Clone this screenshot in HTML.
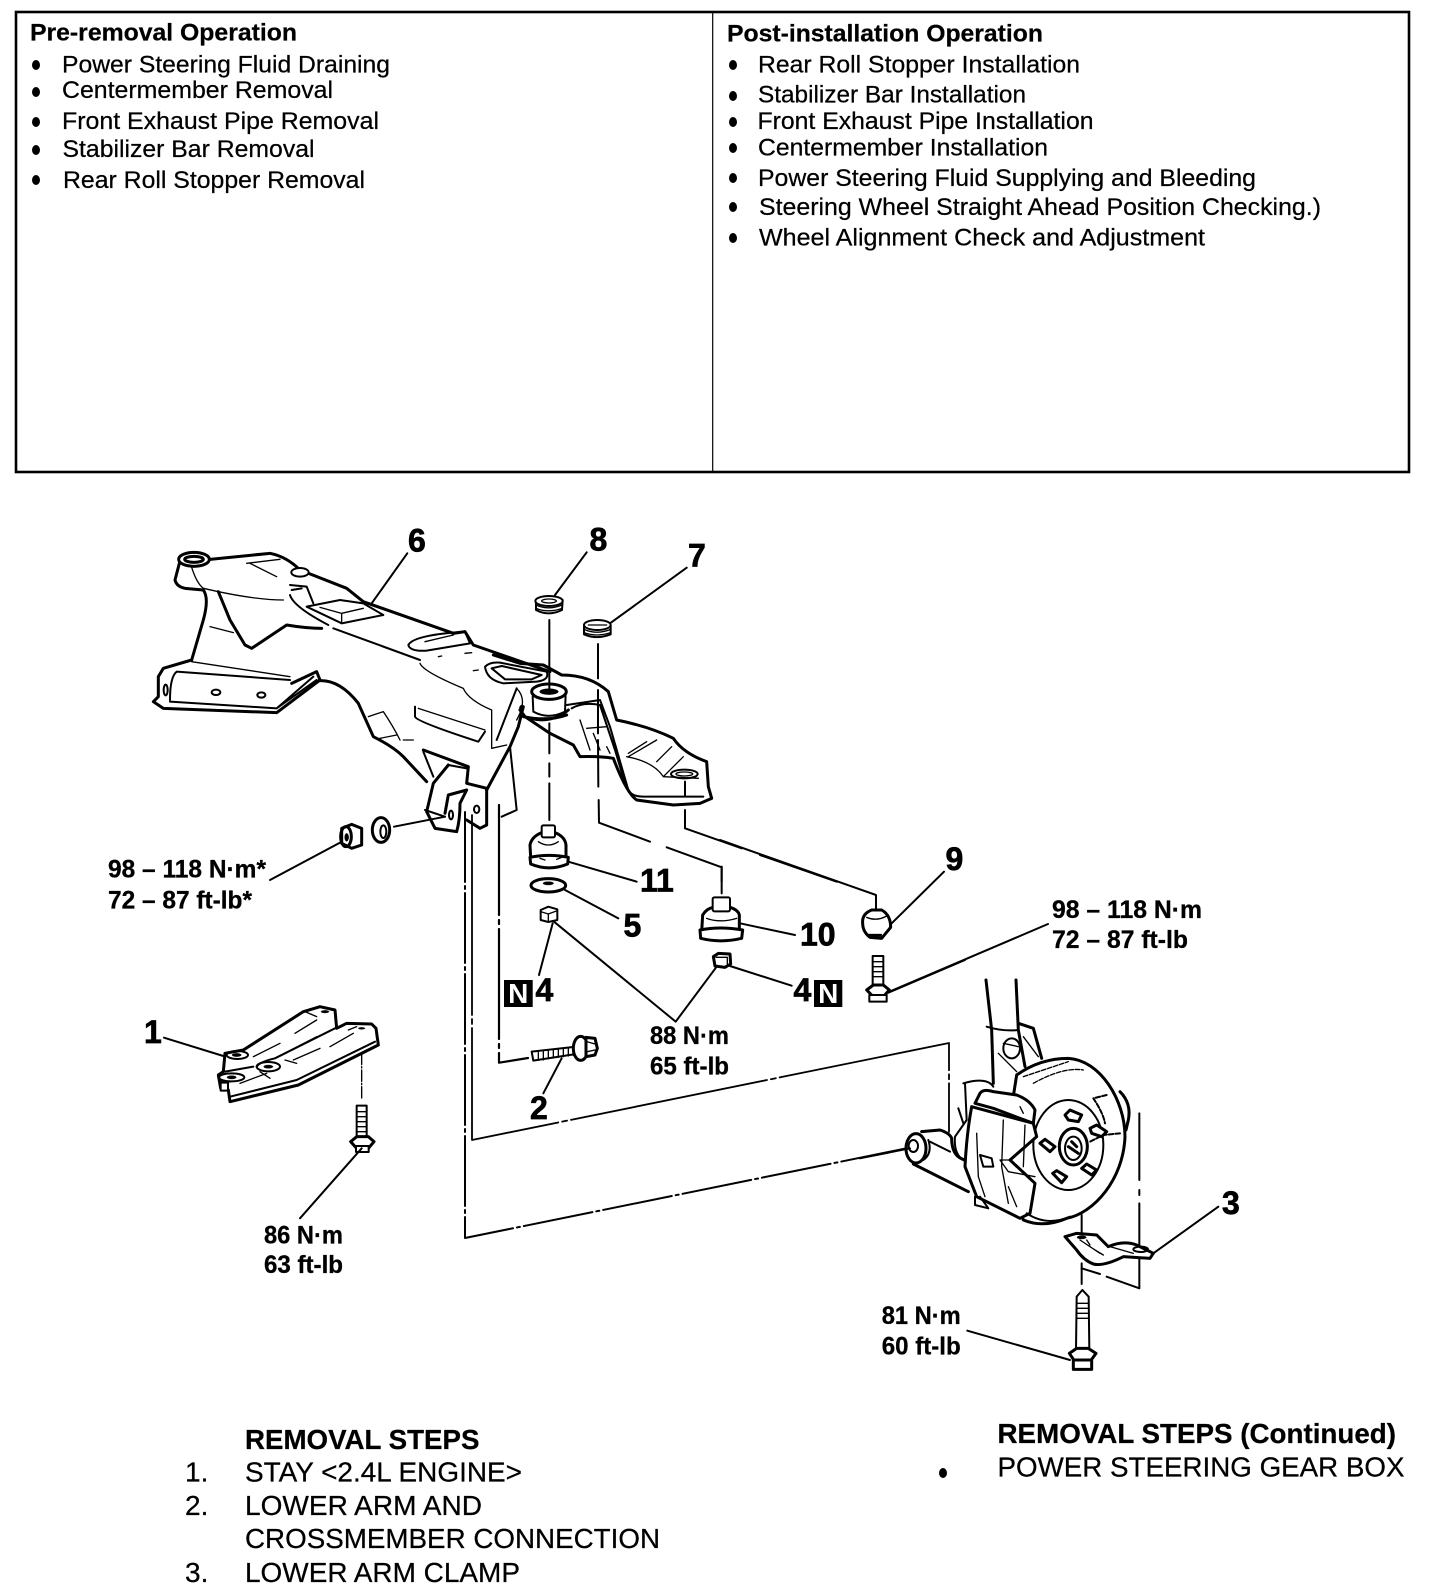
<!DOCTYPE html>
<html><head><meta charset="utf-8"><style>
html,body{margin:0;padding:0;background:#fff}
svg{display:block}
text{font-family:"Liberation Sans",sans-serif;fill:#000}
.b{font-weight:bold}
.t{font-size:24.5px;stroke:#000;stroke-width:.25}
.d{font-size:25px;font-weight:bold;stroke:#000;stroke-width:.3}
.n{font-size:32px;font-weight:bold;stroke:#000;stroke-width:.7}
.s{font-size:28px;stroke:#000;stroke-width:.25}
.p path,.p line,.p ellipse,.p polyline,.p rect,.p circle{stroke:#000;stroke-linejoin:round;stroke-linecap:round}
.p path,.p polyline{fill:none}
.p .w{fill:#fff}
.p .k{fill:#000}
.h{stroke-width:9}.m{stroke-width:6}.l{stroke-width:4}
</style></head><body>
<svg width="1456" height="1594" viewBox="0 0 1456 1594" xmlns="http://www.w3.org/2000/svg">
<rect width="1456" height="1594" fill="#fff"/>
<rect x="16" y="12" width="1393" height="460" fill="none" stroke="#000" stroke-width="2.6"/>
<line x1="712.7" y1="12" x2="712.7" y2="472" stroke="#000" stroke-width="1.2"/>

<text class="t b" x="30" y="40.7" textLength="267" lengthAdjust="spacingAndGlyphs">Pre-removal Operation</text>
<text class="t" x="62" y="72.5" textLength="328" lengthAdjust="spacingAndGlyphs">Power Steering Fluid Draining</text>
<text class="t" x="62" y="98" textLength="271" lengthAdjust="spacingAndGlyphs">Centermember Removal</text>
<text class="t" x="62" y="129" textLength="317" lengthAdjust="spacingAndGlyphs">Front Exhaust Pipe Removal</text>
<text class="t" x="62.5" y="157" textLength="252" lengthAdjust="spacingAndGlyphs">Stabilizer Bar Removal</text>
<text class="t" x="63" y="188" textLength="302" lengthAdjust="spacingAndGlyphs">Rear Roll Stopper Removal</text>
<g fill="#000">
<ellipse cx="36" cy="65" rx="4" ry="5"/><ellipse cx="36" cy="92" rx="4" ry="5"/><ellipse cx="36" cy="122" rx="4" ry="5"/><ellipse cx="36" cy="150" rx="4" ry="5"/><ellipse cx="36" cy="180" rx="4" ry="5"/>
<ellipse cx="733" cy="65" rx="4" ry="5"/><ellipse cx="733" cy="96" rx="4" ry="5"/><ellipse cx="733" cy="122" rx="4" ry="5"/><ellipse cx="733" cy="148" rx="4" ry="5"/><ellipse cx="733" cy="178" rx="4" ry="5"/><ellipse cx="733" cy="207" rx="4" ry="5"/><ellipse cx="733" cy="238" rx="4" ry="5"/>
<ellipse cx="943" cy="1473" rx="4" ry="5"/>
</g>
<text class="t b" x="727" y="41.3" textLength="316" lengthAdjust="spacingAndGlyphs">Post-installation Operation</text>
<text class="t" x="758" y="72.7" textLength="322" lengthAdjust="spacingAndGlyphs">Rear Roll Stopper Installation</text>
<text class="t" x="758" y="102.7" textLength="268" lengthAdjust="spacingAndGlyphs">Stabilizer Bar Installation</text>
<text class="t" x="757.5" y="129" textLength="336" lengthAdjust="spacingAndGlyphs">Front Exhaust Pipe Installation</text>
<text class="t" x="758" y="155.3" textLength="290" lengthAdjust="spacingAndGlyphs">Centermember Installation</text>
<text class="t" x="758" y="186" textLength="498" lengthAdjust="spacingAndGlyphs">Power Steering Fluid Supplying and Bleeding</text>
<text class="t" x="759" y="215" textLength="562" lengthAdjust="spacingAndGlyphs">Steering Wheel Straight Ahead Position Checking.)</text>
<text class="t" x="759" y="245.7" textLength="446" lengthAdjust="spacingAndGlyphs">Wheel Alignment Check and Adjustment</text>

<!-- global connector lines -->
<g class="p" fill="none">
<polyline stroke-width="2" stroke-dasharray="70,4,3,4" points="465,812 465,1238 908,1148"/>
<polyline stroke-width="1.8" stroke-dasharray="200,4,5,4" points="472,815 472,1140 949,1043 949,1132"/>
<polyline stroke-width="2.2" stroke-dasharray="110,5,4,5" points="499,805 499,1062.7 528,1058"/>
<line x1="887" y1="992.7" x2="1048" y2="924" stroke-width="2"/>
</g>

<!-- crossmember, left portion -->
<g class="p" transform="translate(120,520) scale(.33333)">
<path class="h" d="M178,130 L165,180 Q170,200 195,205 L250,210 Q268,235 250,300 L215,420"/>
<ellipse class="w h" cx="222" cy="118" rx="46" ry="21"/>
<ellipse class="h" cx="222" cy="118" rx="28" ry="9" fill="none"/>
<path class="h" d="M270,118 L450,100 Q500,110 540,150 L680,205 L730,245 L1000,340 L1035,335 L1060,375 L1290,455"/>
<ellipse class="w m" cx="540" cy="157" rx="26" ry="13"/>
<path class="m" d="M510,195 L560,200 L580,250 M515,210 L545,205"/>
<path class="l" d="M215,142 Q230,190 250,205 Q400,240 490,240 M380,130 L480,118 M390,130 L470,170"/>
<path class="h" d="M295,215 L330,300 L375,375 L395,385 L500,315 Q560,325 605,325"/>
<path class="l" d="M270,320 L340,338"/>
<path class="m" d="M510,225 Q520,260 625,315"/>
<path class="m" d="M560,260 L660,240 L730,250 L790,285 L665,310 Z"/>
<path class="l" d="M665,280 L730,265 M665,280 L665,308 M600,262 L665,280"/>
<path class="m" d="M640,325 L900,420"/>
<path class="l" d="M900,430 Q910,455 1030,505 Q1045,540 1115,570 L1115,685 L1160,675"/>
<path class="m" d="M865,375 Q880,345 1035,335 L1050,370 L920,392 Q870,395 865,375 Z"/>
<path class="l" d="M915,365 L1000,345 M955,410 L965,408 M1035,400 L1055,398 M1060,452 L1075,450"/>
<path class="m" d="M1095,440 Q1110,425 1140,428 L1280,455 Q1290,480 1250,485 L1150,490 Q1100,480 1095,440 Z"/>
<path class="m" d="M1115,445 L1145,438 L1265,465 L1235,478 L1155,478 Z"/>
<path class="m" d="M885,560 L885,590 Q890,605 1075,665 L1095,635"/>
<path class="l" d="M895,565 L1095,630"/>
<path class="h" d="M215,420 L130,445 L115,470 L115,530 L100,545 L130,565 L470,578 L600,480 L590,455 L515,490"/>
<path class="l" d="M215,425 L510,470"/>
<path class="m" d="M150,540 Q150,470 170,455 L510,480 M150,545 L470,565 L590,480 M470,565 L580,470"/>
<ellipse class="m" cx="288" cy="517" rx="13" ry="8" fill="none"/>
<ellipse class="m" cx="424" cy="525" rx="12" ry="8" fill="none"/>
<ellipse class="m" cx="137" cy="510" rx="6" ry="16" fill="none"/>
<path class="h" d="M600,482 Q660,480 715,550 L760,650 Q820,680 850,710 L920,785"/>
<path class="l" d="M745,590 L790,575 Q820,620 840,660 M780,655 L830,645 M850,660 L880,660"/>
<path class="h" d="M910,690 L1045,740 L1040,790 L1100,805 L1100,915 L1080,925 L1040,900"/>
<path class="m" d="M910,695 L940,770 M985,735 L1040,745"/>
<path class="h" d="M985,735 L940,790 L920,875 L945,925 L1010,935 Q1020,900 1020,850 L1040,810 L985,825 L975,880"/>
<path class="m" d="M915,870 L975,890"/>
<ellipse class="m" cx="993" cy="885" rx="6" ry="13" fill="none"/>
<ellipse class="m" cx="1070" cy="868" rx="8" ry="11" fill="none"/>
<path class="h" d="M1100,810 L1170,680 L1195,620 L1210,560"/>
<path class="m" d="M1170,680 L1190,870 L1145,890 M1190,505 L1130,660"/>
<path class="l" d="M1190,505 Q1225,540 1190,600"/>
<ellipse class="k" cx="1205" cy="565" rx="7" ry="10"/>
</g>

<!-- crossmember right portion -->
<g class="p" transform="translate(500,520) scale(.33333)">
<path class="h" d="M-20,405 L60,430 L130,435 L185,465 Q270,465 325,515 L350,600 Q450,620 520,655 Q550,700 620,725 L625,800 L635,835 L600,850 L520,855 L410,840 Q380,820 340,715 Q300,708 240,710 L220,675 L150,640 L75,590 L60,570"/>
<path class="m" d="M200,555 L300,540 L330,620 L385,810 Q395,830 430,830 L610,830 M215,565 Q250,545 300,555 L345,690 L375,790"/>
<path class="l" d="M240,600 L270,690 M260,625 L320,620 M280,640 L300,690 M320,680 L330,700 M385,710 L470,660 M385,700 L440,665 M470,725 L515,680 M380,710 Q460,725 490,770 L595,775 M490,770 L550,710"/>
<ellipse class="m" cx="553" cy="762" rx="40" ry="13" fill="none"/>
<ellipse class="l" cx="553" cy="762" rx="25" ry="6" fill="none"/>
<path class="w m" d="M98,530 L100,575 Q145,600 195,575 L197,520 Z"/>
<path class="h" d="M60,585 Q145,620 205,570 M70,590 Q145,605 200,585"/>
<ellipse class="w h" cx="147" cy="515" rx="52" ry="23"/>
<ellipse class="k" cx="147" cy="515" rx="28" ry="9"/>
<line class="m" x1="148" y1="300" x2="148" y2="510"/>
<line class="m" x1="148" y1="610" x2="148" y2="700"/>
<line class="m" x1="148" y1="730" x2="148" y2="770"/>
<line class="m" x1="148" y1="790" x2="148" y2="900"/>
<polyline class="m" points="294,372 294,475"/>
<polyline class="m" points="294,510 294,640"/>
<polyline class="m" points="294,660 295,800"/>
<polyline class="m" points="296,840 297,908 450,965"/>
<polyline class="m" points="500,982 665,1042 665,1085"/>
<polyline class="m" points="555,785 555,830"/>
<polyline class="m" points="555,870 555,925 725,985"/>
<polyline class="m" points="780,1005 1010,1085"/>
<!-- 8 -->
<path class="w m" d="M108,240 L108,270 Q145,290 186,270 L188,240 Z"/>
<ellipse class="w m" cx="147" cy="243" rx="41" ry="15"/>
<ellipse class="l" cx="147" cy="243" rx="22" ry="6" fill="none"/>
<path class="l" d="M108,255 Q145,272 186,255 M108,265 Q145,280 186,265"/>
<!-- 7 -->
<path class="w m" d="M252,315 L252,343 Q290,360 332,343 L332,315 Z"/>
<ellipse class="w m" cx="292" cy="315" rx="40" ry="15"/>
<path class="l" d="M265,315 L320,315 M252,328 Q290,345 332,328 M252,338 Q290,352 332,338"/>
<!-- 11 -->
<path class="w h" d="M92,1012 L90,975 Q95,950 125,938 L165,938 Q195,950 198,975 L198,1012 Z"/>
<rect class="w m" x="125" y="916" width="40" height="36" rx="5"/>
<path class="w h" d="M90,1012 Q147,1000 205,1012 L203,1032 Q147,1055 92,1032 Z"/>
<path class="l" d="M115,965 Q145,985 175,965 M120,1015 L135,1020 M170,1018 L185,1012"/>
</g>

<!-- lower-left group -->
<g class="p" transform="translate(100,840) scale(.33333)">
<path class="h" d="M375,640 L370,695 L355,705 L362,745 L385,750 L390,785 L595,735 L835,615 L828,565 L815,552 L740,550 L710,565 L705,510 L660,500 L610,515 L430,630 L375,640"/>
<path class="m" d="M375,695 L460,680 M470,680 Q480,665 525,655 L705,565 M362,725 L390,725 M390,770 L590,720 L825,605"/>
<path class="l" d="M460,650 L540,610 M585,580 L650,540 M525,655 L650,590 M580,660 L660,625 M690,620 L760,580 M615,515 L650,530 M745,570 L770,560 M420,730 L500,700 M480,695 L510,715 M555,660 L590,670"/>
<ellipse class="m" cx="412" cy="645" rx="32" ry="12" fill="none"/>
<ellipse class="k" cx="410" cy="645" rx="14" ry="5"/>
<ellipse class="m" cx="505" cy="680" rx="35" ry="14" fill="none"/>
<ellipse class="k" cx="505" cy="680" rx="14" ry="5"/>
<ellipse class="m" cx="395" cy="712" rx="38" ry="12" fill="none"/>
<ellipse class="k" cx="395" cy="712" rx="14" ry="5"/>
<ellipse class="k" cx="675" cy="515" rx="12" ry="4"/>
<ellipse class="k" cx="785" cy="565" rx="10" ry="3"/>
<rect class="w m" x="362" y="728" width="22" height="24"/>
<polyline class="l" points="785,640 785,780" stroke-dasharray="34,6,4,6"/>
<!-- bolt -->
<rect class="w m" x="770" y="797" width="30" height="100"/>
<path class="l" d="M772,815 H798 M772,830 H798 M772,845 H798 M772,860 H798 M772,875 H798"/>
<path class="w h" d="M752,905 L770,890 L805,890 L822,905 L805,925 L770,925 Z"/>
<rect class="w m" x="768" y="918" width="38" height="18"/>
</g>

<!-- center parts -->
<g class="p" transform="translate(480,840) scale(.33333)">
<!-- cup 10 -->
<path class="w h" d="M665,275 L668,225 Q680,205 700,202 L750,202 Q775,210 778,225 L778,275 Z"/>
<rect class="w m" x="698" y="172" width="52" height="42" rx="5"/>
<path class="w h" d="M660,270 Q720,258 788,270 L785,295 Q722,310 662,295 Z"/>
<path class="l" d="M680,235 Q720,250 770,235"/>
<!-- washer 5 -->
<ellipse class="w h" cx="205" cy="136" rx="52" ry="20"/>
<ellipse class="k" cx="205" cy="130" rx="16" ry="5"/>
<!-- nut left -->
<path class="w m" d="M182,210 L205,200 L232,208 L232,240 L205,246 L182,240 Z"/>
<path class="l" d="M182,215 L205,222 L232,212 M205,222 L205,246"/>
<!-- nut right -->
<path class="w h" d="M700,350 L715,340 L750,342 L752,372 L735,382 L705,378 Z"/>
<path class="l" d="M708,352 L742,352 L742,372"/>
<!-- 9 -->
<path class="w h" d="M1148,250 Q1145,222 1175,210 L1205,210 Q1232,225 1232,262 L1205,295 L1170,292 Q1148,275 1148,250 Z"/>
<path class="l" d="M1160,232 Q1190,245 1220,228"/>
<rect class="k" x="1165" y="282" width="40" height="8"/>
<!-- bolt right -->
<rect class="w m" x="1178" y="348" width="32" height="90"/>
<path class="l" d="M1180,365 H1208 M1180,380 H1208 M1180,395 H1208 M1180,410 H1208"/>
<path class="w h" d="M1160,450 L1180,435 L1210,435 L1228,450 L1210,470 L1180,470 Z"/>
<rect class="w m" x="1168" y="465" width="52" height="20"/>
<!-- bolt 2 -->
<path class="w m" d="M155,635 L290,620 L300,640 L160,662 Z"/>
<path class="l" d="M175,635 V660 M190,635 V660 M205,632 V656 M220,630 V654 M235,628 V652 M250,626 V650 M265,624 V648 M280,622 V646"/>
<ellipse class="w h" cx="302" cy="625" rx="22" ry="36"/>
<path class="w h" d="M318,592 L345,595 L352,625 L345,645 L318,650 Z"/>
<path class="l" d="M320,605 L345,612 M322,635 L345,630"/>
<!-- leaders -->
<g class="m">
<line x1="265" y1="65" x2="470" y2="125"/><line x1="255" y1="150" x2="415" y2="235"/><line x1="780" y1="250" x2="945" y2="285"/>
<line x1="1392" y1="95" x2="1235" y2="250"/><line x1="218" y1="250" x2="177" y2="405"/>
<polyline points="222,245 587,545 710,380"/><line x1="750" y1="378" x2="935" y2="437"/><line x1="245" y1="655" x2="190" y2="760"/>
<polyline points="725,80 725,160"/>
<polyline points="720,0 1188,165 1188,205"/>
</g>
</g>

<!-- wheel assembly -->
<g class="p" transform="translate(860,960) scale(.33333)">
<path class="h" d="M378,60 L395,210 L400,370 M468,60 L475,210 L495,320"/>
<path class="m" d="M380,200 Q430,215 475,210"/>
<path class="h" d="M475,190 L520,205 L545,295"/>
<path class="l" d="M490,230 L535,290"/>
<ellipse class="m" cx="455" cy="265" rx="25" ry="30" fill="none"/>
<path class="l" d="M415,280 L470,335 M430,250 L475,260"/>
<path class="w h" d="M470,345 Q540,295 625,295 C720,300 795,420 795,530 C790,660 700,760 620,775 Q550,805 490,780 L430,600 Z"/>
<path class="l" d="M490,350 L625,305 M520,370 Q610,320 670,330" stroke-dasharray="14,5"/>
<ellipse class="m" cx="625" cy="555" rx="105" ry="135" fill="none"/>
<ellipse class="h" cx="640" cy="560" rx="42" ry="55" fill="none"/>
<ellipse class="m" cx="640" cy="565" rx="25" ry="35" fill="none"/>
<path class="h" d="M625,560 L655,580 M635,545 L650,560"/>
<path class="m" d="M740,405 L700,415 Q730,460 735,490 M780,520 L730,525 L690,545" stroke-dasharray="14,6"/>
<path class="w h" d="M615,465 L630,450 L665,465 L655,485 L625,480 Z"/>
<path class="w h" d="M690,505 L710,495 L740,515 L725,530 L695,520 Z"/>
<path class="w h" d="M540,550 L555,538 L585,560 L570,575 Z"/>
<path class="w h" d="M578,640 L590,632 L620,650 L605,668 Z"/>
<path class="w h" d="M665,625 L680,612 L710,630 L695,645 Z"/>
<path class="h" d="M780,395 Q815,430 805,480 L798,510"/>
<path class="m" d="M310,370 Q380,350 400,380 M315,370 L320,480 L285,530 Q280,590 320,605 M295,445 L310,490"/>
<path class="w h" d="M360,400 Q370,385 400,395 L470,405 Q510,420 525,450 L520,490 L400,445 L345,430 Z"/>
<path class="w h" d="M335,440 L520,490 L530,530 L450,600 L525,670 L510,760 L480,775 L350,710 L315,620 Q320,520 335,440 Z"/>
<path class="m" d="M345,710 L345,735 L385,745 L360,710 M500,760 Q560,800 630,770"/>
<path class="l" d="M350,520 L355,650 L375,710 M430,480 L425,620 L445,730 M495,495 L490,620 M450,600 L420,600 L445,635 L525,650 M470,740 L445,680 M480,440 L490,460"/>
<path class="m" d="M360,585 L395,595 L400,620 L370,620 Z" fill="none"/>
<path class="h" d="M160,612 L325,695"/>
<path class="h" d="M185,515 L240,510 Q270,520 275,535"/>
<ellipse class="w h" cx="168" cy="565" rx="30" ry="44"/>
<ellipse class="m" cx="160" cy="558" rx="14" ry="18" fill="none"/>
<path class="m" d="M205,540 Q218,580 190,600 M210,545 L270,575"/>
<path class="h" d="M275,535 Q275,590 315,600"/>
<polyline class="m" points="0,595 150,565"/>
<polyline class="m" points="838,460 838,660"/>
<polyline class="m" points="838,690 838,705"/>
<polyline class="m" points="838,730 838,985 740,950"/>
<polyline class="m" points="720,942 665,925"/>
<polyline class="m" points="665,765 665,825"/>
<polyline class="m" points="665,910 665,972"/>
<path class="w h" d="M615,830 L650,820 L710,825 L745,860 Q790,840 830,855 L880,880 L870,895 L790,890 Q730,920 700,912 Q670,900 650,870 Z"/>
<path class="l" d="M660,840 L720,880 M750,860 L820,880 M680,840 L690,855 M705,870 L730,885"/>
<ellipse class="k" cx="665" cy="832" rx="14" ry="5"/>
<ellipse class="m" cx="842" cy="868" rx="22" ry="8" fill="none"/>
<path class="w m" d="M650,1010 L667,990 L686,1010 L688,1170 L648,1170 Z"/>
<path class="l" d="M650,1030 H686 M650,1045 H686 M650,1060 H686 M650,1075 H686"/>
<path class="w h" d="M628,1180 L650,1165 L685,1165 L708,1180 L690,1205 L645,1205 Z"/>
<rect class="w h" x="640" y="1200" width="55" height="28"/>
<line class="m" x1="880" y1="880" x2="1075" y2="740"/>
<line class="m" x1="322" y1="1112" x2="630" y2="1200"/>
<line class="m" x1="85" y1="98" x2="315" y2="0"/>
</g>

<!-- leaders upper -->
<g class="p" stroke-width="2">
<line x1="407.3" y1="553.3" x2="371.7" y2="603.3"/>
<line x1="586.7" y1="552.3" x2="555" y2="595"/>
<line x1="686.7" y1="567.7" x2="610" y2="623.3"/>
<line x1="270" y1="880" x2="341.7" y2="841.7"/>
<line x1="394" y1="826.7" x2="445" y2="816.7"/>
<line x1="164" y1="1037.7" x2="223.3" y2="1056"/>
<line x1="300" y1="1218.3" x2="361.7" y2="1148.3"/>
</g>
<!-- washer & nut left -->
<g class="p" transform="translate(120,520) scale(.33333)">
<ellipse class="w h" cx="783" cy="930" rx="26" ry="37"/>
<ellipse class="m" cx="790" cy="935" rx="9" ry="19" fill="none"/>
<path class="w h" d="M665,925 L695,913 L725,925 L725,975 L695,985 L665,970 Z"/>
<ellipse class="h" cx="678" cy="950" rx="16" ry="30" fill="none"/>
<ellipse class="k" cx="680" cy="952" rx="6" ry="12"/>
</g>

<!-- callouts -->
<text class="n" x="408" y="551.7">6</text>
<text class="n" x="589.5" y="550.7">8</text>
<text class="n" x="688" y="566.7">7</text>
<text class="n" x="945.5" y="870">9</text>
<text class="n" x="640" y="891.7">11</text>
<text class="n" x="623.5" y="936.7">5</text>
<text class="n" x="800" y="945.7">10</text>
<text class="n" x="535.5" y="1001">4</text>
<text class="n" x="793.5" y="1001">4</text>
<text class="n" x="530" y="1119">2</text>
<text class="n" x="144" y="1043">1</text>
<text class="n" x="1222" y="1214">3</text>
<rect x="504" y="980" width="28.7" height="27" fill="#000"/>
<rect x="814" y="980" width="28.3" height="27" fill="#000"/>
<text x="518.3" y="1003" text-anchor="middle" style="fill:#fff;font-weight:bold;font-size:28px">N</text>
<text x="828.2" y="1003" text-anchor="middle" style="fill:#fff;font-weight:bold;font-size:28px">N</text>

<text class="d" x="108" y="877.3" textLength="158" lengthAdjust="spacingAndGlyphs">98 – 118 N·m*</text>
<text class="d" x="108" y="908.3" textLength="144" lengthAdjust="spacingAndGlyphs">72 – 87 ft-lb*</text>
<text class="d" x="650" y="1044" textLength="79" lengthAdjust="spacingAndGlyphs">88 N·m</text>
<text class="d" x="650" y="1074.3" textLength="79" lengthAdjust="spacingAndGlyphs">65 ft-lb</text>
<text class="d" x="264" y="1243.3" textLength="79" lengthAdjust="spacingAndGlyphs">86 N·m</text>
<text class="d" x="264" y="1273" textLength="79" lengthAdjust="spacingAndGlyphs">63 ft-lb</text>
<text class="d" x="881.7" y="1324" textLength="79" lengthAdjust="spacingAndGlyphs">81 N·m</text>
<text class="d" x="881.7" y="1354.7" textLength="79" lengthAdjust="spacingAndGlyphs">60 ft-lb</text>
<text class="d" x="1052" y="918" textLength="150" lengthAdjust="spacingAndGlyphs">98 – 118 N·m</text>
<text class="d" x="1052" y="948" textLength="136" lengthAdjust="spacingAndGlyphs">72 – 87 ft-lb</text>

<!-- steps -->
<text class="s b" x="245" y="1449" textLength="234.5" lengthAdjust="spacingAndGlyphs">REMOVAL STEPS</text>
<text class="s" x="185" y="1481.7">1.</text>
<text class="s" x="245" y="1481.7" textLength="277" lengthAdjust="spacingAndGlyphs">STAY &lt;2.4L ENGINE&gt;</text>
<text class="s" x="185" y="1515">2.</text>
<text class="s" x="245" y="1515" textLength="237" lengthAdjust="spacingAndGlyphs">LOWER ARM AND</text>
<text class="s" x="245" y="1548" textLength="415" lengthAdjust="spacingAndGlyphs">CROSSMEMBER CONNECTION</text>
<text class="s" x="185" y="1582">3.</text>
<text class="s" x="245" y="1582" textLength="275" lengthAdjust="spacingAndGlyphs">LOWER ARM CLAMP</text>
<text class="s b" x="997.5" y="1443" textLength="398.5" lengthAdjust="spacingAndGlyphs">REMOVAL STEPS (Continued)</text>
<text class="s" x="997.5" y="1476.7" textLength="407" lengthAdjust="spacingAndGlyphs">POWER STEERING GEAR BOX</text>
</svg>
</body></html>
